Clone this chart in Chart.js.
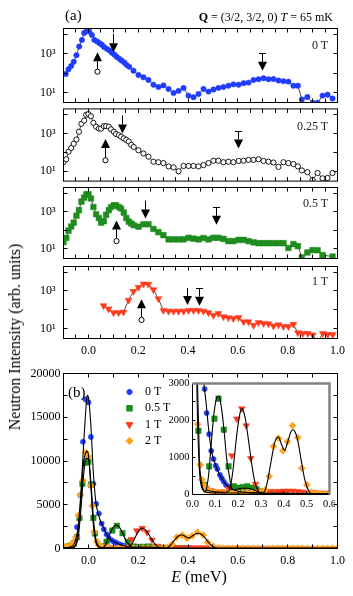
<!DOCTYPE html>
<html>
<head>
<meta charset="utf-8">
<script src="https://cdn.jsdelivr.net/npm/chart.js@4.4.0/dist/chart.umd.min.js"></script>
<style>
body { margin: 0; background: #fff; }
#wrap { position: relative; width: 353px; height: 596px; overflow: hidden; font-family: "Liberation Serif", "DejaVu Serif", serif; color: #000; }
canvas { position: absolute; }
.t { position: absolute; white-space: nowrap; line-height: 1; }
</style>
</head>
<body>
<div id="wrap">
  <canvas id="p0" width="353" height="110" style="left:0;top:0"></canvas>
  <canvas id="p1" width="353" height="82" style="left:0;top:104px"></canvas>
  <canvas id="p2" width="353" height="80" style="left:0;top:183px"></canvas>
  <canvas id="p3" width="353" height="100" style="left:0;top:262px"></canvas>
  <canvas id="pb" width="353" height="236" style="left:0;top:360px"></canvas>
  <canvas id="pin" width="190" height="135" style="left:145px;top:375px"></canvas>

  <div class="t" style="left:65px;top:7.5px;font-size:15px">(a)</div>
  <div class="t" style="right:20px;top:10.5px;font-size:12px"><b>Q</b> = (3/2, 3/2, 0) <i>T</i> = 65 mK</div>
  <div class="t" style="right:25px;top:39px;font-size:12px;color:#222">0 T</div>
  <div class="t" style="right:25px;top:120px;font-size:12px;color:#222">0.25 T</div>
  <div class="t" style="right:25px;top:197px;font-size:12px;color:#222">0.5 T</div>
  <div class="t" style="right:25px;top:275px;font-size:12px;color:#222">1 T</div>
  <div class="t" style="left:68px;top:385px;font-size:15px">(b)</div>
  <div class="t" style="left:15px;top:336.5px;font-size:16px;transform:translate(-50%,-50%) rotate(-90deg)">Neutron Intensity (arb. units)</div>
  <div class="t" style="left:199px;top:569px;font-size:16px;transform:translateX(-50%)"><i>E</i> (meV)</div>
</div>

<script>
// ---- panel (a): log-scale spectra, E (meV) and intensity ----
const e0T = [-0.091,-0.08,-0.069,-0.059,-0.048,-0.037,-0.026,-0.017,-0.006,0.003,0.014,0.024,0.035,0.045,0.054,0.063,0.074,0.085,0.094,0.105,0.114,0.125,0.134,0.145,0.154,0.164,0.181,0.201,0.221,0.241,0.261,0.281,0.301,0.322,0.342,0.362,0.382,0.402,0.422,0.442,0.462,0.482,0.502,0.522,0.542,0.562,0.582,0.603,0.623,0.643,0.663,0.683,0.703,0.723,0.743,0.763,0.783,0.803,0.823,0.841,0.857,0.879,0.9,0.92,0.94,0.96,0.98];
const i0T = [89,158,234,380,832,2340,5130,11700,15500,14100,9330,5130,4270,3470,2880,2190,1780,1480,1120,891,676,537,437,339,257,209,132,79,60,44,25,19,23,15,9.3,12,17,6.8,5.6,8.3,15,11,14,17,19,22,26,25,30,32,44,48,54,48,49,41,38,36,22,22,4.3,5.8,2.9,2.9,6.8,7.6,4.8];

const e025T = [-0.1,-0.089,-0.08,-0.069,-0.059,-0.048,-0.038,-0.028,-0.017,-0.009,0.0,0.01,0.02,0.031,0.042,0.051,0.062,0.071,0.082,0.091,0.102,0.111,0.122,0.131,0.142,0.152,0.162,0.172,0.182,0.201,0.221,0.241,0.261,0.281,0.301,0.322,0.342,0.362,0.382,0.402,0.422,0.442,0.462,0.482,0.502,0.522,0.542,0.562,0.582,0.603,0.623,0.643,0.663,0.683,0.703,0.723,0.743,0.763,0.783,0.803,0.823,0.841,0.857,0.879,0.9,0.92,0.94,0.96,0.98];
const i025T = [30,43,107,170,282,479,1230,3240,4790,9770,10700,8130,3630,2290,1820,1820,2450,2450,2290,1660,1230,933,813,676,550,457,372,251,191,129,87,59,32,30,27,18,16,10,19,19,19,18,21,27,36,36,30,32,30,35,36,40,40,43,35,32,29,17,30,27,24,18,11,8.9,3.5,8.1,4.2,4.4,8.1];

const e05T = [-0.1,-0.089,-0.08,-0.069,-0.059,-0.048,-0.038,-0.028,-0.017,-0.008,0.0,0.01,0.02,0.031,0.042,0.051,0.062,0.071,0.082,0.091,0.102,0.111,0.122,0.131,0.142,0.152,0.162,0.172,0.182,0.201,0.221,0.241,0.261,0.281,0.301,0.322,0.342,0.362,0.382,0.402,0.422,0.442,0.462,0.482,0.502,0.522,0.542,0.562,0.582,0.603,0.623,0.643,0.663,0.683,0.703,0.723,0.743,0.763,0.783,0.803,0.823,0.841,0.857,0.879,0.9,0.92,0.94,0.98];
const i05T = [23,39,95,158,257,603,1200,3470,5750,8510,8510,5130,1780,724,457,257,309,676,1200,1780,2190,2190,1780,1480,891,457,288,229,186,155,209,209,117,79,54,32,32,32,32,39,35,32,38,32,39,39,34,26,26,30,30,26,22,20,20,20,20,20,20,11,18,14,3.5,6.3,8.5,8.3,4.6,3.8];

const e1T = [0.061,0.081,0.101,0.121,0.141,0.161,0.181,0.201,0.221,0.241,0.261,0.281,0.301,0.322,0.342,0.362,0.382,0.402,0.422,0.442,0.462,0.482,0.502,0.522,0.542,0.562,0.582,0.603,0.623,0.643,0.663,0.683,0.703,0.723,0.743,0.763,0.783,0.803,0.823,0.841,0.861,0.881,0.901,0.921,0.941,0.961,0.981];
const i1T = [166,112,71,71,76,324,955,1580,2340,2290,1170,389,93,85,85,85,85,93,93,93,85,71,51,63,43,38,35,39,23,23,15,21,19,18,14,16,13,13,17,6,5.6,5.6,4.6,2,5.6,4.9,4.9];

// arrows: [E, circle, tip], [E, top, tip], [E, bar, tip]
const upArrows   = [[0.037, 117, 1200], [0.067, 38, 515], [0.114, 26, 337], [0.212, 29, 365]];
const downArrows = [[0.10, 10700, 1200], [0.138, 9100, 1000], [0.228, 3950, 425], [0.396, 1420, 180]];
const barArrows  = [[0.70, 1070, 130], [0.603, 1270, 159], [0.513, 1600, 195], [0.445, 1320, 166]];

const xTicksA = [-0.1,-0.05,0,0.05,0.1,0.15,0.2,0.25,0.3,0.35,0.4,0.45,0.5,0.55,0.6,0.65,0.7,0.75,0.8,0.85,0.9,0.95,1.0];
const xLabelsA = [0,0.2,0.4,0.6,0.8,1.0];
const yTicksA = [10,100,1000,10000];
const yLabelValsA = [10,1000];
const yLabelTxtA = ['10\u00b9','10\u00b3'];

// ---- panel (b): linear scale, data points ----
const e0Tb = [-0.09,-0.08,-0.07,-0.058,-0.046,-0.033,-0.022,-0.012,0.0,0.01,0.02,0.031,0.042,0.053,0.062,0.073,0.082,0.092,0.102,0.109,0.12,0.128,0.137,0.147,0.158,0.172,0.187,0.2,0.22,0.24,0.26,0.28,0.3,0.32,0.34,0.36,0.38,0.4];
const i0Tb = [150,200,300,700,2450,6100,12200,17050,16700,12750,7400,5100,4000,2850,2200,1630,1180,960,780,690,530,440,350,260,210,170,130,100,70,60,50,40,30,25,20,20,15,10];

const e05Tb = [-0.09,-0.08,-0.07,-0.058,-0.046,-0.036,-0.024,-0.012,0.0,0.01,0.02,0.026,0.053,0.073,0.096,0.114,0.137,0.158,0.181,0.2,0.22,0.24,0.26,0.28,0.3,0.32,0.34,0.36,0.38,0.4];
const i05Tb = [200,250,350,600,1300,3500,7400,9800,9900,7300,3500,1720,260,760,2050,2590,1750,760,220,180,200,220,180,150,80,60,50,40,40,30];

const e1Tb = [0.06,0.08,0.1,0.12,0.14,0.158,0.172,0.194,0.216,0.235,0.255,0.276,0.3,0.32,0.34,0.36,0.38,0.4,0.42,0.44,0.46,0.48,0.5,0.52,0.54,0.56,0.58,0.6,0.62,0.64,0.66,0.68,0.7,0.72,0.74,0.76,0.78,0.8,0.82,0.84,0.86,0.88,0.9,0.94,0.96,0.98];
const i1Tb = [166,112,71,71,76,170,1050,2045,2320,1860,980,280,93,85,85,85,85,93,93,93,85,71,51,63,43,38,35,39,23,23,15,21,19,18,14,16,13,13,17,6,6,6,5,6,5,5];

const e2Tb = [-0.1,-0.09,-0.08,-0.07,-0.06,-0.05,-0.04,-0.032,-0.022,-0.011,0.0,0.01,0.016,0.023,0.034,0.041,0.053,0.065,0.08,0.1,0.12,0.14,0.16,0.18,0.2,0.22,0.24,0.26,0.28,0.3,0.318,0.336,0.355,0.377,0.396,0.416,0.438,0.461,0.479,0.501,0.52,0.54,0.56,0.58,0.6,0.62,0.64,0.66,0.68,0.7,0.72,0.74,0.76,0.78,0.8,0.82,0.84,0.86,0.88,0.9,0.92,0.94,0.96,0.98,1.0];
const i2Tb = [150,200,250,350,700,1300,3800,6100,7800,11000,10500,7200,4900,1900,800,400,240,120,80,60,50,50,50,50,50,50,50,50,50,60,120,490,1300,1520,1180,1430,1860,1540,710,260,60,30,25,20,20,20,20,20,20,20,20,20,20,20,20,20,20,20,20,20,20,20,20,20,20];

// fitted curves
const fitE0 = [-0.1,-0.08,-0.07,-0.06,-0.05,-0.04,-0.03,-0.02,-0.01,-0.005,0.0,0.01,0.02,0.03,0.04,0.05,0.06,0.07,0.08,0.09,0.1,0.11,0.12,0.13,0.14,0.15,0.16,0.18,0.2,0.25,0.3,0.4,0.6,1.0];
const fitI0 = [60,120,200,400,1100,2800,6500,11500,16000,17500,17300,14000,8600,5300,3900,3000,2450,1800,1300,1000,820,650,520,420,330,250,200,130,90,50,35,25,20,20];
const fitE05 = [-0.1,-0.06,-0.05,-0.04,-0.03,-0.02,-0.01,0.0,0.01,0.02,0.03,0.04,0.05,0.055,0.06,0.07,0.08,0.09,0.1,0.11,0.115,0.12,0.13,0.14,0.15,0.16,0.17,0.18,0.2,0.22,0.24,0.26,0.28,0.3,0.32,0.4,1.0];
const fitI05 = [50,150,400,1500,4500,8200,10300,10200,7600,3500,1000,300,90,60,120,500,1200,1950,2450,2650,2660,2580,2200,1600,950,550,200,130,150,170,170,150,90,30,10,5,5];
const fitE1 = [0.06,0.1,0.14,0.15,0.16,0.17,0.18,0.19,0.2,0.21,0.216,0.22,0.23,0.24,0.25,0.26,0.27,0.28,0.29,0.3,0.31,0.4,0.6,1.0];
const fitI1 = [120,70,60,70,110,350,800,1400,1900,2250,2330,2300,2100,1700,1250,800,430,190,80,40,30,30,20,10];
const fitE2 = [-0.1,-0.06,-0.05,-0.04,-0.03,-0.02,-0.01,-0.005,0.0,0.01,0.02,0.03,0.04,0.05,0.06,0.1,0.2,0.3,0.31,0.32,0.33,0.34,0.35,0.36,0.37,0.375,0.38,0.39,0.4,0.405,0.41,0.42,0.43,0.44,0.45,0.46,0.47,0.48,0.49,0.5,0.51,0.52,0.53,0.6,1.0];
const fitI2 = [50,150,500,2200,5800,9600,11000,11100,10700,7000,2600,700,200,100,60,40,40,40,50,150,400,750,1100,1400,1540,1550,1520,1350,1220,1200,1280,1480,1680,1750,1680,1480,1150,780,450,230,90,30,20,20,20];

const xTicksB = [0,0.1,0.2,0.3,0.4,0.5,0.6,0.7,0.8,0.9,1.0];
const xLabelsB = [0,0.2,0.4,0.6,0.8,1.0];
const yTicksB = [0,2500,5000,7500,10000,12500,15000,17500,20000];
const yLabelsB = [0,5000,10000,15000,20000];
const xTicksIn = [0,0.1,0.2,0.3,0.4,0.5,0.6];
const yTicksIn = [0,500,1000,1500,2000,2500,3000];
const yLabelsIn = [0,1000,2000,3000];

const legendNames = ['0 T', '0.5 T', '1 T', '2 T'];

const BLUE = '#1f3cff', GREEN = '#1f8c1f', RED = '#ff3b1c', ORANGE = '#ffa41c';

Chart.defaults.font.family = "'Liberation Serif', 'DejaVu Serif', serif";
Chart.defaults.font.size = 12;
Chart.defaults.color = '#000';

function pts(e, v) { return e.map((x, i) => ({ x: x, y: v[i] })); }
function has(list, v) { return list.some(l => Math.abs(l - v) < 1e-9); }
function crisp(p) { return Math.round(p - 0.5) + 0.5; }

// fix axis size and drop the label overhang padding so the plot box lands where we want it
function fixSize(w, h) {
    return s => {
        if (w !== null) s.width = w;
        if (h !== null) s.height = h;
        s.paddingTop = 0; s.paddingBottom = 0; s.paddingLeft = 0; s.paddingRight = 0;
    };
}

function boxPlugin(opts) {
    return {
        id: 'box',
        beforeDraw(chart) {
            if (!opts.fill) return;
            const a = chart.chartArea, ctx = chart.ctx;
            ctx.save();
            ctx.fillStyle = '#fff';
            ctx.fillRect(a.left, a.top, a.right - a.left, a.bottom - a.top);
            ctx.restore();
        },
        afterDraw(chart) {
            const { ctx, chartArea: a } = chart;
            const sx = chart.scales.x, sy = chart.scales.y;
            const len = opts.len || 4;
            ctx.save();
            ctx.strokeStyle = '#000';
            ctx.lineWidth = 1;
            ctx.beginPath();
            sx.ticks.forEach(t => {
                const p = crisp(sx.getPixelForValue(t.value));
                if (p <= a.left + 1 || p >= a.right - 1) return;
                ctx.moveTo(p, a.bottom); ctx.lineTo(p, a.bottom - len);
                if (!opts.inset) { ctx.moveTo(p, a.top); ctx.lineTo(p, a.top + len); }
            });
            sy.ticks.forEach(t => {
                const p = crisp(sy.getPixelForValue(t.value));
                if (p <= a.top + 1 || p >= a.bottom - 1) return;
                ctx.moveTo(a.left, p); ctx.lineTo(a.left + len, p);
                if (!opts.inset) { ctx.moveTo(a.right, p); ctx.lineTo(a.right - len, p); }
            });
            ctx.stroke();

            if (opts.inset) {
                ctx.beginPath();
                ctx.moveTo(a.left, a.top); ctx.lineTo(a.left, a.bottom); ctx.lineTo(a.right, a.bottom);
                ctx.stroke();
                ctx.strokeStyle = '#808080';
                ctx.lineWidth = 2.5;
                ctx.beginPath();
                ctx.moveTo(a.left, a.top); ctx.lineTo(a.right, a.top); ctx.lineTo(a.right, a.bottom);
                ctx.stroke();
            } else {
                ctx.strokeRect(a.left, a.top, a.right - a.left, a.bottom - a.top);
            }
            ctx.restore();
            if (opts.extra) opts.extra(chart);
        }
    };
}

function head(ctx, x, tip, base, hw) {
    ctx.beginPath();
    ctx.moveTo(x, tip); ctx.lineTo(x - hw, base); ctx.lineTo(x + hw, base);
    ctx.closePath();
    ctx.fillStyle = '#000';
    ctx.fill();
}

function drawArrows(chart, idx) {
    const ctx = chart.ctx, sx = chart.scales.x, sy = chart.scales.y;
    const hl = 9, hw = 4.5;
    ctx.save();
    ctx.strokeStyle = '#000';
    ctx.lineWidth = 1;

    // up arrow from an open circle
    let [e, a1, a2] = upArrows[idx];
    let x = crisp(sx.getPixelForValue(e)), y1 = sy.getPixelForValue(a1), y2 = sy.getPixelForValue(a2);
    ctx.beginPath(); ctx.moveTo(x, y1 - 2.5); ctx.lineTo(x, y2 + hl); ctx.stroke();
    head(ctx, x, y2, y2 + hl, hw);
    ctx.beginPath(); ctx.arc(x, y1, 2.6, 0, Math.PI * 2);
    ctx.fillStyle = '#fff'; ctx.fill(); ctx.stroke();

    // plain down arrow
    [e, a1, a2] = downArrows[idx];
    x = crisp(sx.getPixelForValue(e)); y1 = sy.getPixelForValue(a1); y2 = sy.getPixelForValue(a2);
    ctx.beginPath(); ctx.moveTo(x, y1); ctx.lineTo(x, y2 - hl); ctx.stroke();
    head(ctx, x, y2, y2 - hl, hw);

    // down arrow with a bar on top
    [e, a1, a2] = barArrows[idx];
    x = crisp(sx.getPixelForValue(e)); y1 = crisp(sy.getPixelForValue(a1)); y2 = sy.getPixelForValue(a2);
    ctx.beginPath();
    ctx.moveTo(x - 3.5, y1); ctx.lineTo(x + 3.5, y1);
    ctx.moveTo(x, y1); ctx.lineTo(x, y2 - hl);
    ctx.stroke();
    head(ctx, x, y2, y2 - hl, hw);
    ctx.restore();
}

const panelPads = [
    { top: 28.5, right: 15.5, bottom: 7.5, left: 0 },
    { top: 3.5, right: 15.5, bottom: 4.5, left: 0 },
    { top: 3.5, right: 15.5, bottom: 2.5, left: 0 },
    { top: 2.5, right: 15.5, bottom: 5.5, left: 0 }
];

function logPanel(id, idx, e, v, style, showX) {
    new Chart(document.getElementById(id), {
        type: 'scatter',
        data: {
            datasets: [Object.assign({
                data: pts(e, v),
                showLine: true,
                borderColor: '#000',
                borderWidth: 0.7
            }, style)]
        },
        options: {
            animation: false,
            responsive: false,
            events: [],
            layout: { padding: panelPads[idx] },
            plugins: { legend: { display: false }, tooltip: { enabled: false } },
            scales: {
                x: {
                    type: 'linear', min: -0.1, max: 1.0,
                    afterBuildTicks: s => { s.ticks = xTicksA.map(t => ({ value: t })); },
                    afterFit: fixSize(null, showX ? 18 : 0),
                    grid: { display: false, drawTicks: false },
                    border: { display: false },
                    ticks: {
                        display: showX, autoSkip: false, maxRotation: 0, padding: 5,
                        callback: t => has(xLabelsA, t) ? t.toFixed(1) : ''
                    }
                },
                y: {
                    type: 'logarithmic', min: 3, max: 20000,
                    afterBuildTicks: s => { s.ticks = yTicksA.map(t => ({ value: t })); },
                    afterFit: fixSize(63.5, null),
                    grid: { display: false, drawTicks: false },
                    border: { display: false },
                    ticks: {
                        autoSkip: false, padding: 8,
                        callback: t => { const k = yLabelValsA.indexOf(t); return k >= 0 ? yLabelTxtA[k] : ''; }
                    }
                }
            }
        },
        plugins: [boxPlugin({ len: 4, extra: c => drawArrows(c, idx) })]
    });
}

logPanel('p0', 0, e0T, i0T, { pointStyle: 'circle', pointRadius: 2.7, pointBackgroundColor: BLUE, pointBorderColor: BLUE, pointBorderWidth: 0.5 }, false);
logPanel('p1', 1, e025T, i025T, { pointStyle: 'circle', pointRadius: 2.6, pointBackgroundColor: '#fff', pointBorderColor: '#000', pointBorderWidth: 0.9 }, false);
logPanel('p2', 2, e05T, i05T, { pointStyle: 'rect', pointRadius: 4, pointBackgroundColor: GREEN, pointBorderColor: GREEN, pointBorderWidth: 0.5 }, false);
logPanel('p3', 3, e1T, i1T, { pointStyle: 'triangle', pointRotation: 180, pointRadius: 4, pointBackgroundColor: RED, pointBorderColor: RED, pointBorderWidth: 0.5 }, true);

// ---- panel (b) ----
const markerStyles = [
    { pointStyle: 'circle', pointRadius: 2.6, color: BLUE, rotation: 0 },
    { pointStyle: 'rect', pointRadius: 3.9, color: GREEN, rotation: 0 },
    { pointStyle: 'triangle', pointRadius: 3.9, color: RED, rotation: 180 },
    { pointStyle: 'rectRot', pointRadius: 3.6, color: ORANGE, rotation: 0 }
];

function bDatasets() {
    const fit = (e, v) => ({
        data: pts(e, v), showLine: true, pointRadius: 0, borderColor: '#000', borderWidth: 1.1,
        cubicInterpolationMode: 'monotone', order: 0
    });
    const mk = (e, v, k, order) => {
        const m = markerStyles[k];
        return {
            data: pts(e, v), showLine: false, pointStyle: m.pointStyle, pointRadius: m.pointRadius,
            pointRotation: m.rotation, pointBackgroundColor: m.color, pointBorderColor: m.color,
            pointBorderWidth: 0.5, order: order
        };
    };
    return [
        fit(fitE0, fitI0), fit(fitE05, fitI05), fit(fitE1, fitI1), fit(fitE2, fitI2),
        mk(e0Tb, i0Tb, 0, 4), mk(e05Tb, i05Tb, 1, 3), mk(e1Tb, i1Tb, 2, 2), mk(e2Tb, i2Tb, 3, 1)
    ];
}

function drawLegend(chart) {
    const ctx = chart.ctx;
    ctx.save();
    legendNames.forEach((name, k) => {
        const m = markerStyles[k];
        const y = 32 + k * 16.3;
        ctx.fillStyle = m.color;
        ctx.strokeStyle = m.color;
        Chart.helpers.drawPoint(ctx, { pointStyle: m.pointStyle, rotation: m.rotation, radius: m.pointRadius, borderWidth: 0.5 }, 129.5, y);
        ctx.fillStyle = '#000';
        ctx.font = "12px 'Liberation Serif', 'DejaVu Serif', serif";
        ctx.textBaseline = 'middle';
        ctx.textAlign = 'left';
        ctx.fillText(name, 145, y);
    });
    ctx.restore();
}

new Chart(document.getElementById('pb'), {
    type: 'scatter',
    data: { datasets: bDatasets() },
    options: {
        animation: false,
        responsive: false,
        events: [],
        layout: { padding: { top: 13.5, right: 15.5, bottom: 27.5, left: 0 } },
        plugins: { legend: { display: false }, tooltip: { enabled: false } },
        scales: {
            x: {
                type: 'linear', min: -0.1, max: 1.0,
                afterBuildTicks: s => { s.ticks = xTicksB.map(t => ({ value: t })); },
                afterFit: fixSize(null, 20),
                grid: { display: false, drawTicks: false },
                border: { display: false },
                ticks: { autoSkip: false, maxRotation: 0, padding: 5, callback: t => has(xLabelsB, t) ? t.toFixed(1) : '' }
            },
            y: {
                type: 'linear', min: 0, max: 20000,
                afterBuildTicks: s => { s.ticks = yTicksB.map(t => ({ value: t })); },
                afterFit: fixSize(63.5, null),
                grid: { display: false, drawTicks: false },
                border: { display: false },
                ticks: { autoSkip: false, padding: 3, callback: t => has(yLabelsB, t) ? String(t) : '' }
            }
        }
    },
    plugins: [boxPlugin({ len: 4, extra: drawLegend })]
});

new Chart(document.getElementById('pin'), {
    type: 'scatter',
    data: { datasets: bDatasets() },
    options: {
        animation: false,
        responsive: false,
        events: [],
        layout: { padding: { top: 8.5, right: 5.5, bottom: 0, left: 0 } },
        plugins: { legend: { display: false }, tooltip: { enabled: false } },
        scales: {
            x: {
                type: 'linear', min: 0, max: 0.6,
                afterBuildTicks: s => { s.ticks = xTicksIn.map(t => ({ value: t })); },
                afterFit: fixSize(null, 15.5),
                grid: { display: false, drawTicks: false },
                border: { display: false },
                ticks: { autoSkip: false, maxRotation: 0, padding: 3, font: { size: 10.5 }, callback: t => t.toFixed(1) }
            },
            y: {
                type: 'linear', min: 0, max: 3000,
                afterBuildTicks: s => { s.ticks = yTicksIn.map(t => ({ value: t })); },
                afterFit: fixSize(47.5, null),
                grid: { display: false, drawTicks: false },
                border: { display: false },
                ticks: { autoSkip: false, padding: 3, font: { size: 10.5 }, callback: t => has(yLabelsIn, t) ? String(t) : '' }
            }
        }
    },
    plugins: [boxPlugin({ len: 3, inset: true, fill: true })]
});
</script>
</body>
</html>
